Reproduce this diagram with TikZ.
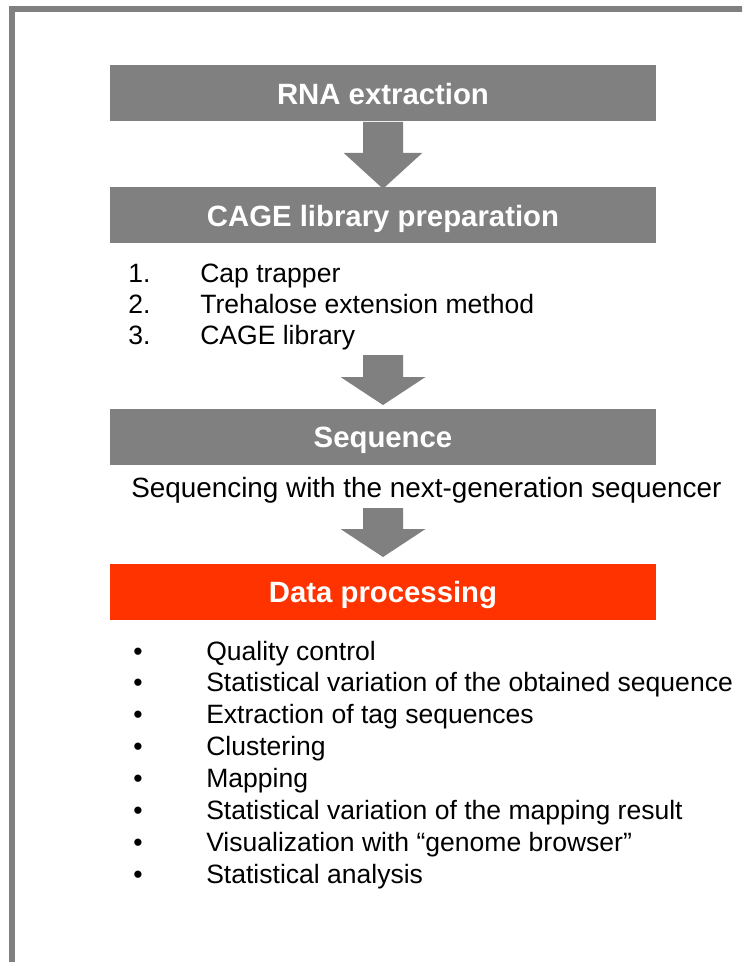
\documentclass[tikz,border=0pt]{standalone}
\usepackage{fontspec}
\setmainfont{Liberation Sans}
\usetikzlibrary{calc}
\definecolor{boxgray}{HTML}{808080}
\definecolor{boxred}{HTML}{FF3300}

% block arrow pointing down: #1 start point, #2 shaft length, #3 head length, #4 head half width
\newcommand{\blockarrowdown}[4]{%
  \fill[boxgray] (#1) ++(-20,0) -- ++(0,#2) -- ++(20-#4,0) -- ++(#4,#3)
    -- ++(#4,-#3) -- ++(20-#4,0) -- ++(0,-#2) -- cycle;}

\begin{document}
\begin{tikzpicture}[x=0.75pt,y=-0.75pt,
  stage/.style={fill=boxgray, draw=none, inner sep=0pt,
    minimum width=409.5pt, minimum height=42pt,
    text=white, font=\fontsize{22}{26}\selectfont\bfseries,
    text height=15.8pt, text depth=0pt},
  body/.style={anchor=base west, inner sep=0pt,
    font=\fontsize{19.9}{24}\selectfont},
  bulletmark/.style={anchor=base, inner sep=0pt,
    font=\fontsize{19.9}{24}\selectfont},
]
\useasboundingbox (0,0) rectangle (742,962);
\clip (0,0) rectangle (742,962);

% outer frame (left and top edges)
\draw[boxgray, line width=4.5pt] (12,980) -- (12,9.5) -- (760,9.5);

% stages
\node[stage] (rna) at (383,93.5) {RNA extraction};
\node[stage] (cage) at (383,215.5) {CAGE library preparation};
\node[stage] (seq) at (383,437) {Sequence};
\node[stage, fill=boxred] (data) at (383,592) {Data processing};

% arrows between stages
\coordinate (a2) at (383,355);
\coordinate (a3) at (383,508);
\blockarrowdown{rna.south}{31}{36}{39.5}
\blockarrowdown{a2}{22}{28}{42.5}
\blockarrowdown{a3}{21}{28}{42.5}

% library preparation steps
\node[body] (n1) at (128,282) {1.};
\node[body] (n2) at (128,313) {2.};
\node[body] (n3) at (128,344) {3.};
\node[body] (s1) at (200,282) {Cap trapper};
\node[body] (s2) at (200,313) {Trehalose extension method};
\node[body] (s3) at (200,344) {CAGE library};

% sequencing note
\node[body, font=\fontsize{20.9}{25}\selectfont] (seqnote) at (131,497)
  {Sequencing with the next-generation sequencer};

% data processing steps
\foreach \t [count=\i from 0] in {Quality control,
    Statistical variation of the obtained sequence,
    Extraction of tag sequences,
    Clustering,
    Mapping,
    Statistical variation of the mapping result,
    Visualization with “genome browser”,
    Statistical analysis}{
  \node[bulletmark] (b\i) at (138,660+31.9*\i) {•};
  \node[body] (d\i) at (206,660+31.9*\i) {\t};
}
\end{tikzpicture}
\end{document}
